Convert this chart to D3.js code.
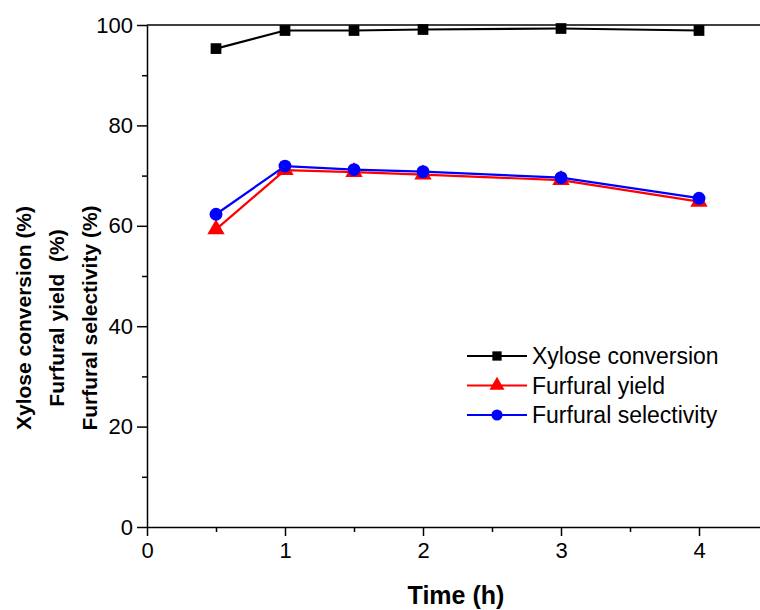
<!DOCTYPE html>
<html>
<head>
<meta charset="utf-8">
<script src="https://d3js.org/d3.v7.min.js"></script>
<style>
  body { margin: 0; background: #fff; }
  text { font-family: Arial, "Liberation Sans", sans-serif; }
</style>
</head>
<body>
<div id="chart"></div>
<script>
// Data
var times = [0.5, 1, 1.5, 2, 3, 4];
var xyloseConversion = [95.3, 98.9, 98.9, 99.1, 99.3, 98.9];
var furfuralYield = [59.3, 71.1, 70.7, 70.2, 69.1, 64.8];
var furfuralSelectivity = [62.3, 71.9, 71.2, 70.8, 69.6, 65.5];

var xTicks = [0, 1, 2, 3, 4];
var yTicks = [0, 20, 40, 60, 80, 100];

var seriesNames = ["Xylose conversion", "Furfural yield", "Furfural selectivity"];

//Set the dimensions for the SVG Container
var svgWidth = 760;
var svgHeight = 610;

var margin = { top: 25, left: 147 };
var height = 502;

var svg = d3.select("#chart")
    .append("svg")
    .attr("width", svgWidth)
    .attr("height", svgHeight);

var chartGroup = svg.append("g")
    .attr("transform", `translate(${margin.left}, ${margin.top})`);

//Scales
var xScale = d3.scaleLinear()
    .domain([0, 4.5])
    .range([0, 138 * 4.5]);

var yScale = d3.scaleLinear()
    .domain([0, 100])
    .range([height, 0]);

//Minor ticks first (shorter)
chartGroup.append("g")
    .attr("transform", `translate(0, ${height})`)
    .call(d3.axisBottom(xScale).tickValues([0.5, 1.5, 2.5, 3.5]).tickSize(5).tickFormat(""))
    .call(g => g.select(".domain").remove());

chartGroup.append("g")
    .call(d3.axisLeft(yScale).tickValues([10, 30, 50, 70, 90]).tickSize(5).tickFormat(""))
    .call(g => g.select(".domain").remove());

//X axis
var xAxis = chartGroup.append("g")
    .attr("transform", `translate(0, ${height})`)
    .call(d3.axisBottom(xScale).tickValues(xTicks).tickFormat(d3.format("d"))
        .tickSize(9).tickPadding(6).tickSizeOuter(0));
xAxis.selectAll("text").style("font-size", "22px").attr("fill", "#000");

//Y axis
var yAxis = chartGroup.append("g")
    .call(d3.axisLeft(yScale).tickValues(yTicks).tickFormat(d3.format("d"))
        .tickSize(10).tickPadding(4).tickSizeOuter(0));
yAxis.selectAll("text").style("font-size", "22px").attr("fill", "#000");

svg.selectAll(".domain, .tick line")
    .attr("stroke", "#000")
    .attr("stroke-width", 1.5);

//Top frame line
chartGroup.append("line")
    .attr("x1", 0)
    .attr("x2", xScale(4.5))
    .attr("y1", yScale(100))
    .attr("y2", yScale(100))
    .attr("stroke", "#000")
    .attr("stroke-width", 1.5);

//Series
var series = [
    { name: seriesNames[0], values: xyloseConversion, color: "#000000", symbol: d3.symbolSquare, size: 115 },
    { name: seriesNames[1], values: furfuralYield, color: "#ff0000", symbol: d3.symbolTriangle, size: 130 },
    { name: seriesNames[2], values: furfuralSelectivity, color: "#0000ff", symbol: d3.symbolCircle, size: 130 }
];

var line = d3.line()
    .x(d => xScale(d[0]))
    .y(d => yScale(d[1]));

series.forEach(function(s) {
    var pts = times.map((t, i) => [t, s.values[i]]);

    chartGroup.append("path")
        .datum(pts)
        .attr("d", line)
        .attr("fill", "none")
        .attr("stroke", s.color)
        .attr("stroke-width", 2.2);

    chartGroup.selectAll(null)
        .data(pts)
        .enter()
        .append("path")
        .attr("d", d3.symbol().type(s.symbol).size(s.size))
        .attr("transform", d => `translate(${xScale(d[0])}, ${yScale(d[1])})`)
        .attr("fill", s.color);
});

//Legend
var legend = svg.append("g")
    .attr("transform", "translate(467, 356)");

series.forEach(function(s, i) {
    var row = legend.append("g").attr("transform", `translate(0, ${i * 29.5})`);
    row.append("line")
        .attr("x1", 0).attr("x2", 60)
        .attr("stroke", s.color)
        .attr("stroke-width", 2.2);
    row.append("path")
        .attr("d", d3.symbol().type(s.symbol).size(s.size * 0.75))
        .attr("transform", "translate(30, 0)")
        .attr("fill", s.color);
    row.append("text")
        .attr("x", 65)
        .attr("y", 8)
        .style("font-size", "23px")
        .text(s.name);
});

//X axis label
svg.append("text")
    .attr("x", 456)
    .attr("y", 604)
    .attr("text-anchor", "middle")
    .style("font-size", "25px")
    .style("font-weight", "bold")
    .text("Time (h)");

//Y axis labels, three lines
var yLabels = ["Xylose conversion (%)", "Furfural yield  (%)", "Furfural selectivity (%)"];
var yLabelX = [31, 64, 97];
yLabels.forEach(function(lbl, i) {
    svg.append("text")
        .attr("transform", `translate(${yLabelX[i]}, 318) rotate(-90)`)
        .attr("text-anchor", "middle")
        .style("font-size", "21px")
        .style("font-weight", "bold")
        .style("white-space", "pre")
        .attr("xml:space", "preserve")
        .text(lbl);
});
</script>
</body>
</html>
